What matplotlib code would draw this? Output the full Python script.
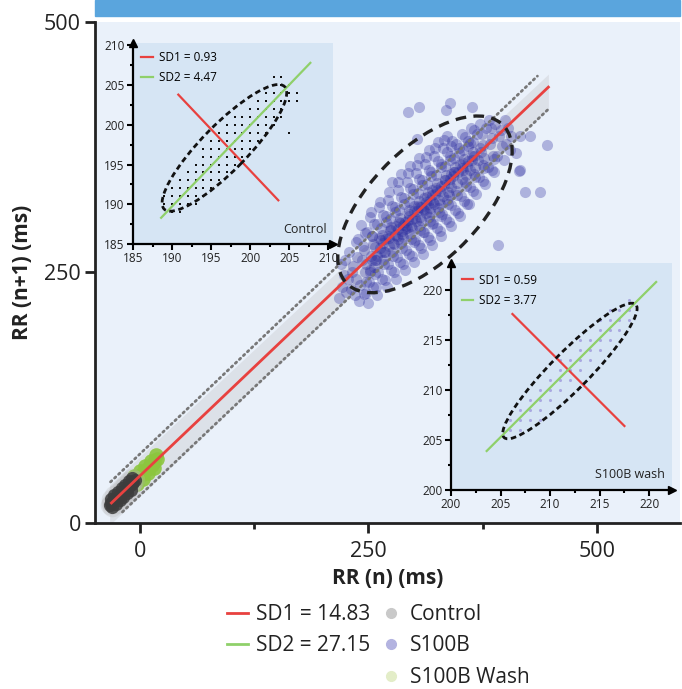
import numpy as np
import matplotlib
matplotlib.use("Agg")
import matplotlib.pyplot as plt
from matplotlib.patches import Ellipse, Rectangle
from matplotlib.lines import Line2D

plt.rcParams["font.family"] = ["Open Sans", "DejaVu Sans"]

# ---------------- data ----------------
# main Poincaré plot, RR(n) vs RR(n+1) in ms
sd_line_x = [-31, 447]          # red axis line in the main panel
sd_line_y = [20, 435]
upper_dot_x = [-32, 435]
upper_dot_y = [41, 446]
lower_dot_x = [-19, 447]
lower_dot_y = [11, 413]
band_x = [-33, 447]
band_lo = [-2, 413]
band_hi = [38, 448]

control_x = [-33, -31, -29, -27, -25, -23, -21, -19, -17, -15, -13, -11, -9, -7, -5,
             -32, -28, -24, -20, -16, -12, -8, -30, -26, -22, -18, -14, -10]
control_y = [18, 20, 22, 24, 25, 27, 29, 31, 32, 34, 36, 38, 39, 41, 43,
             24, 28, 31, 35, 38, 42, 45, 16, 19, 23, 26, 30, 33]

wash_x = [-8, -5, -2, 1, 4, 7, 10, 13, 16, 19, -6, 0, 6, 12, 18, -3, 3, 9, 15]
wash_y = [40, 43, 45, 48, 50, 53, 56, 58, 61, 64, 47, 52, 57, 62, 68, 39, 44, 50, 55]

# S100B beats (main cloud, fill, core, outliers)
s100b_x = [218, 221, 223, 226, 220, 224, 228,
           231, 233, 236, 229, 235, 238, 232, 237,
           241, 243, 246, 239, 245, 248, 242, 247, 240,
           251, 253, 256, 249, 255, 258, 252, 257, 250, 254,
           261, 263, 266, 259, 265, 268, 262, 267, 260, 264, 269, 258,
           271, 273, 276, 269, 275, 278, 272, 277, 270, 274, 279, 268, 276,
           281, 283, 286, 279, 285, 288, 282, 287, 280, 284, 289, 278, 286, 281,
           291, 293, 296, 289, 295, 298, 292, 297, 290, 294, 299, 288, 296, 291, 300,
           301, 303, 306, 299, 305, 308, 302, 307, 300, 304, 309, 298, 306, 301, 310,
           311, 313, 316, 309, 315, 318, 312, 317, 310, 314, 319, 308, 316, 311, 320,
           321, 323, 326, 319, 325, 328, 322, 327, 320, 324, 329, 318, 326, 321, 330,
           331, 333, 336, 329, 335, 338, 332, 337, 330, 334, 339, 328, 336,
           341, 343, 346, 339, 345, 348, 342, 347, 340, 344, 349, 338,
           351, 353, 356, 349, 355, 358, 352, 357, 350, 354, 359,
           361, 363, 366, 359, 365, 368, 362, 367, 360,
           371, 373, 376, 369, 375, 378, 372, 377,
           381, 383, 386, 379, 385, 388, 382,
           391, 393, 396, 389, 395, 398,
           401, 403, 406, 399, 405,
           245, 247, 244, 246, 255, 257, 254, 256, 253,
           265, 267, 264, 266, 263, 275, 277, 274, 276, 273,
           285, 287, 284, 286, 283, 295, 297, 294, 296, 293,
           305, 307, 304, 306, 303, 315, 317, 314, 316, 313,
           325, 327, 324, 326, 323, 335, 337, 334, 336, 333,
           345, 347, 344, 346, 355, 357, 354, 356,
           365, 367, 364, 366, 375, 377, 374, 385, 387, 384,
           254, 257, 252, 264, 262, 266, 273, 275, 271, 283, 285, 287,
           292, 295, 290, 302, 305, 300, 313, 311, 315, 322, 325, 320,
           332, 334, 330, 341, 344, 339, 352, 350, 354, 361, 363, 359, 370, 372,
           259, 268, 279, 288, 298, 308, 318, 328, 338, 348, 358, 366,
           280, 300, 320, 340, 310, 290,
           306, 339, 363, 293, 446, 421, 438, 392, 416, 412,
           335, 303, 341, 361, 416, 427, 415, 252]
s100b_y = [225, 236, 248, 231, 258, 262, 244,
           234, 256, 244, 270, 228, 265, 250, 280,
           238, 262, 250, 283, 272, 230, 297, 258, 222,
           241, 266, 255, 290, 278, 236, 305, 262, 220, 286,
           250, 274, 262, 298, 287, 243, 315, 270, 228, 282, 300, 262,
           258, 284, 270, 306, 295, 250, 322, 279, 236, 292, 310, 270, 340,
           265, 293, 279, 315, 304, 258, 332, 288, 244, 300, 318, 278, 348, 286,
           272, 302, 288, 324, 312, 266, 340, 296, 252, 308, 328, 285, 356, 296, 280,
           282, 311, 296, 333, 321, 274, 349, 305, 260, 316, 337, 294, 364, 304, 290,
           290, 320, 305, 342, 330, 282, 358, 314, 268, 325, 346, 302, 372, 312, 298,
           299, 328, 314, 350, 339, 291, 366, 322, 277, 334, 355, 310, 380, 320, 306,
           308, 337, 322, 358, 347, 300, 374, 330, 286, 342, 362, 318, 386,
           317, 346, 331, 366, 355, 309, 381, 339, 296, 350, 369, 327,
           326, 354, 340, 374, 363, 318, 388, 347, 306, 359, 376,
           335, 362, 348, 381, 370, 328, 394, 355, 318,
           345, 370, 357, 388, 377, 338, 398, 364,
           355, 378, 366, 394, 384, 350, 402,
           366, 386, 376, 398, 392, 362,
           378, 394, 386, 402, 372,
           229, 241, 276, 289, 236, 249, 286, 298, 310,
           244, 258, 294, 307, 320, 252, 266, 303, 316, 330,
           260, 274, 312, 325, 340, 268, 283, 320, 334, 349,
           277, 292, 329, 343, 357, 285, 301, 338, 352, 365,
           294, 310, 347, 361, 374, 303, 318, 356, 370, 382,
           312, 327, 364, 378, 321, 336, 372, 385,
           331, 345, 380, 392, 341, 354, 388, 352, 363, 394,
           262, 275, 252, 270, 284, 279, 276, 292, 286, 283, 299, 291,
           294, 306, 300, 301, 315, 311, 309, 324, 318, 318, 332, 327,
           326, 342, 336, 335, 350, 343, 343, 358, 352, 352, 366, 361, 362, 374,
           266, 283, 287, 297, 303, 315, 322, 331, 339, 350, 356, 366,
           296, 316, 332, 348, 313, 293,
           415, 419, 415, 410, 377, 330, 330, 277, 352, 369,
           412, 383, 376, 379, 386, 386, 351, 250]

big_ell_center = (312, 318)
big_ell_size = (233, 115)
big_ell_angle = 41.3

# inset: Control
ctrl_cols = {
    189: [190, 191],
    190: [189, 190, 191, 192],
    191: [189, 190, 191, 192, 193],
    192: [190, 191, 192, 193, 194],
    193: [190, 191, 192, 193, 194, 195],
    194: [191, 192, 193, 194, 195, 196, 197],
    195: [192, 193, 194, 195, 196, 197, 198],
    196: [193, 194, 195, 196, 197, 198, 199],
    197: [194, 195, 196, 197, 198, 199, 200],
    198: [195, 196, 197, 198, 199, 200, 201],
    199: [196, 197, 198, 199, 200, 201],
    200: [197, 198, 199, 200, 201, 202],
    201: [198, 199, 200, 201, 202, 203],
    202: [199, 200, 201, 202, 203, 204],
    203: [200, 201, 202, 203, 204, 205, 206],
    204: [201, 202, 203, 204, 205, 206],
    205: [199, 203, 204, 205],
    206: [203, 204],
}
ctrl_sd1_x = [190.8, 203.6]
ctrl_sd1_y = [203.8, 190.5]
ctrl_sd2_x = [188.6, 207.7]
ctrl_sd2_y = [188.3, 207.8]
ctrl_ell = ((196.7, 197.1), 21.8, 5.8)

# inset: S100B wash
wash_cols = {
    206: [206, 207],
    207: [206, 207, 208],
    208: [207, 208, 209],
    209: [207, 208, 209, 210],
    210: [209, 210, 211],
    211: [210, 211, 212, 213],
    212: [211, 212, 213],
    213: [212, 213, 214, 215],
    214: [213, 214, 215],
    215: [214, 215, 216, 217],
    216: [215, 216, 217, 218],
    217: [216, 217, 218],
    218: [217, 218, 219],
}
wash_sd1_x = [206.2, 217.5]
wash_sd1_y = [217.6, 206.4]
wash_sd2_x = [203.6, 220.7]
wash_sd2_y = [203.9, 220.8]
wash_ell = ((212.0, 211.9), 18.8, 3.8)

RED = "#e8413f"
GREEN = "#8fd06a"
INK = "#222222"

W, H = 682, 689
fig = plt.figure(figsize=(W / 100, H / 100), dpi=100)

# blue band on top
fig.patches.append(Rectangle((95 / W, 1 - 16 / H), 585 / W, 16 / H,
                             transform=fig.transFigure, color="#5aa5dd", zorder=0))

# ---------------- main axes ----------------
ax = fig.add_axes([95 / W, 1 - 523 / H, 585 / W, 501 / H])
ax.set_facecolor("#eaf1fa")
ax.set_xlim(-49, 591)
ax.set_ylim(0, 500)

ax.fill_between(band_x, band_lo, band_hi, color="#d9dde4", alpha=0.8, lw=0, zorder=1)
ax.scatter(s100b_x, s100b_y, s=64, color="#2e2ea0", alpha=0.32, lw=0, zorder=2)
ax.scatter(wash_x, wash_y, s=110, color="#8cc63e", alpha=0.9, lw=0, zorder=2)
ax.scatter(control_x, control_y, s=200, color="#b5b5b5", alpha=0.25, lw=0, zorder=2)
ax.scatter(control_x, control_y, s=90, color="#3d3d3d", alpha=0.85, lw=0, zorder=2)
for xs, ys in [(upper_dot_x, upper_dot_y), (lower_dot_x, lower_dot_y)]:
    ax.plot(xs, ys, color="#777777", lw=2, ls=(0, (0.6, 1.4)),
            dash_capstyle="round", zorder=3)
ax.plot(sd_line_x, sd_line_y, color=RED, lw=2, zorder=4)
ax.add_patch(Ellipse(big_ell_center, big_ell_size[0], big_ell_size[1], angle=big_ell_angle,
                     fill=False, ec="#222222", lw=2.4, ls=(0, (3.2, 2.2)), zorder=5))

for s in ["top", "right"]:
    ax.spines[s].set_visible(False)
for s in ["left", "bottom"]:
    ax.spines[s].set_linewidth(2)
    ax.spines[s].set_color(INK)
ax.set_xticks([0, 250, 500])
ax.set_xticks([125, 375], minor=True)
ax.set_yticks([0, 250, 500])
ax.tick_params(axis="both", which="major", length=7, width=2, labelsize=15.5,
               color=INK, labelcolor=INK)
ax.tick_params(axis="x", which="minor", length=4, width=2, color=INK)
ax.tick_params(axis="x", pad=6)
ax.tick_params(axis="y", pad=3)
ax.set_xlabel("RR (n) (ms)", fontsize=15, fontweight="bold", color=INK, labelpad=4)
ax.set_ylabel("RR (n+1) (ms)", fontsize=15, fontweight="bold", color=INK, labelpad=8)


def style_inset(iax, xt, yt, txt):
    iax.set_facecolor("#d6e5f4")
    for s in ["top", "right"]:
        iax.spines[s].set_visible(False)
    for s in ["left", "bottom"]:
        iax.spines[s].set_linewidth(1.6)
        iax.spines[s].set_color("black")
    iax.set_xticks(xt)
    iax.set_yticks(yt)
    iax.set_xticks([v + 2.5 for v in xt[:-1]], minor=True)
    iax.set_yticks([v + 2.5 for v in yt[:-1]], minor=True)
    iax.tick_params(which="major", length=4, width=1.5, labelsize=8.5, pad=2,
                    color="black", labelcolor=INK)
    iax.tick_params(which="minor", length=2.5, width=1.5, color="black")
    iax.plot(1, 0, ">", color="black", ms=6, transform=iax.transAxes, clip_on=False)
    iax.plot(0, 1, "^", color="black", ms=6, transform=iax.transAxes, clip_on=False)
    iax.text(0.97, 0.04, txt, transform=iax.transAxes, ha="right", va="bottom",
             fontsize=9, color=INK)


# ---------------- inset: Control ----------------
ia = fig.add_axes([133 / W, 1 - 244 / H, 200 / W, 201 / H])
ia.set_xlim(185, 210.6)
ia.set_ylim(185, 210.3)
cx = [x for x, ys in ctrl_cols.items() for _ in ys]
cy = [y for ys in ctrl_cols.values() for y in ys]
ia.scatter(cx, cy, s=3.5, marker="s", color="#111111", lw=0, zorder=2)
l1, = ia.plot(ctrl_sd1_x, ctrl_sd1_y, color=RED, lw=1.6, zorder=3, label="SD1 = 0.93")
l2, = ia.plot(ctrl_sd2_x, ctrl_sd2_y, color=GREEN, lw=1.6, zorder=3, label="SD2 = 4.47")
ia.add_patch(Ellipse(ctrl_ell[0], ctrl_ell[1], ctrl_ell[2], angle=45, fill=False,
                     ec="#111111", lw=2, ls=(0, (2, 1.3)), zorder=4))
style_inset(ia, [185, 190, 195, 200, 205, 210], [185, 190, 195, 200, 205, 210], "Control")
ia.legend(handles=[l1, l2], loc="upper left", frameon=False, fontsize=8.5,
          handlelength=1.0, handletextpad=0.5, borderaxespad=0.3, labelspacing=0.6)

# ---------------- inset: S100B wash ----------------
ib = fig.add_axes([451 / W, 1 - 490 / H, 221 / W, 227 / H])
ib.set_xlim(200, 222.3)
ib.set_ylim(200, 222.7)
wx = [x for x, ys in wash_cols.items() for _ in ys]
wy = [y for ys in wash_cols.values() for y in ys]
ib.scatter(wx, wy, s=5, color="#a9a9e0", lw=0, zorder=2)
m1, = ib.plot(wash_sd1_x, wash_sd1_y, color=RED, lw=1.6, zorder=3, label="SD1 = 0.59")
m2, = ib.plot(wash_sd2_x, wash_sd2_y, color=GREEN, lw=1.6, zorder=3, label="SD2 = 3.77")
ib.add_patch(Ellipse(wash_ell[0], wash_ell[1], wash_ell[2], angle=45, fill=False,
                     ec="#111111", lw=2, ls=(0, (2, 1.3)), zorder=4))
style_inset(ib, [200, 205, 210, 215, 220], [200, 205, 210, 215, 220], "S100B wash")
ib.legend(handles=[m1, m2], loc="upper left", frameon=False, fontsize=8.5,
          handlelength=1.0, handletextpad=0.5, borderaxespad=0.5, labelspacing=0.6)

# ---------------- bottom legend ----------------
handles = [
    Line2D([], [], color=RED, lw=2),
    Line2D([], [], color=GREEN, lw=2),
    Line2D([], [], alpha=0),
    Line2D([], [], ls="", marker="o", ms=7, color="#c9c9c9"),
    Line2D([], [], ls="", marker="o", ms=7, color="#b3b3e0"),
    Line2D([], [], ls="", marker="o", ms=7, color="#e3edc8"),
]
labels = ["SD1 = 14.83", "SD2 = 27.15", "", "Control", "S100B", "S100B Wash"]
fig.legend(handles, labels, ncol=2, loc="upper left", bbox_to_anchor=(227 / W, 1 - 604 / H),
           frameon=False, fontsize=15, handlelength=1.0, handletextpad=0.4,
           columnspacing=0.5, labelspacing=0.5, borderpad=0, borderaxespad=0,
           labelcolor=INK)

fig.savefig("out.png", dpi=100)
